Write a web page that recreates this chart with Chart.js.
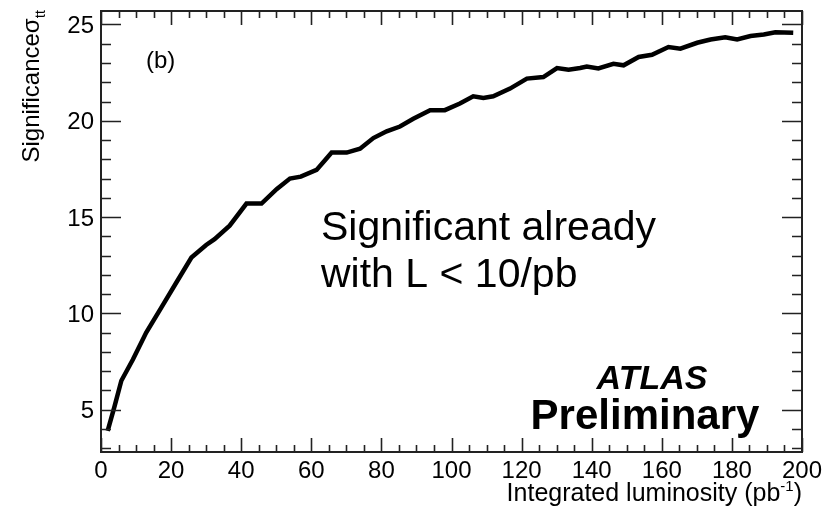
<!DOCTYPE html>
<html>
<head>
<meta charset="utf-8">
<script src="https://cdn.jsdelivr.net/npm/chart.js@4"></script>
<style>
    body { margin: 0; background: #fff; }
    #wrap { width: 838px; height: 512px; }
</style>
</head>
<body>
<div id="wrap"><canvas id="sigChart" width="838" height="512"></canvas></div>
<script>
// Data
const lumi = [1.9, 3.9, 5.8, 9.1, 12.9, 17.2, 21.5, 25.8, 30.0, 32.4, 36.7, 41.5, 45.8, 50.1, 53.9, 57.0,
    61.5, 63.9, 65.8, 70.1, 73.9, 77.7, 81.5, 85.3, 89.1, 93.9, 98.1, 102.4, 106.2, 109.1, 111.9, 116.7,
    121.5, 126.2, 130.1, 133.4, 136.7, 138.6, 141.9, 146.2, 149.1, 153.4, 157.2, 161.9, 165.3, 170.1,
    173.9, 178.1, 181.5, 185.3, 189.1, 192.4, 197.5];
const significance = [3.9, 5.2, 6.5, 7.6, 9.0, 10.3, 11.6, 12.9, 13.55, 13.85, 14.55, 15.7, 15.7, 16.45, 17.0, 17.1,
    17.45, 17.95, 18.35, 18.35, 18.55, 19.1, 19.45, 19.7, 20.1, 20.55, 20.55, 20.9, 21.27, 21.18, 21.27, 21.67,
    22.19, 22.27, 22.74, 22.65, 22.74, 22.82, 22.72, 22.96, 22.88, 23.31, 23.43, 23.83, 23.74, 24.05,
    24.22, 24.34, 24.22, 24.40, 24.48, 24.60, 24.57];

const xTickLabels = [0, 20, 40, 60, 80, 100, 120, 140, 160, 180, 200];
const yTickLabels = [5, 10, 15, 20, 25];

const FONT = '"Liberation Sans", Arial, Helvetica, sans-serif';

// ROOT-style frame with inward ticks on all four sides
const rootAxes = {
    id: 'rootAxes',
    afterDraw(chart) {
        const { ctx, chartArea: a, scales: { x, y } } = chart;
        ctx.save();
        ctx.strokeStyle = '#222';
        ctx.lineWidth = 2;
        ctx.strokeRect(a.left, a.top, a.right - a.left, a.bottom - a.top);

        ctx.lineWidth = 1.6;
        ctx.beginPath();
        // x ticks every 5, major every 20
        for (let v = 0; v <= 200; v += 5) {
            const px = Math.round(x.getPixelForValue(v)) + 0.5;
            const len = v % 20 === 0 ? 14 : 7;
            ctx.moveTo(px, a.bottom); ctx.lineTo(px, a.bottom - len);
            ctx.moveTo(px, a.top); ctx.lineTo(px, a.top + len);
        }
        // y ticks every 1, major every 5
        for (let v = 3; v <= 25; v += 1) {
            const py = Math.round(y.getPixelForValue(v)) + 0.5;
            const len = v % 5 === 0 ? 20 : 10;
            ctx.moveTo(a.left, py); ctx.lineTo(a.left + len, py);
            ctx.moveTo(a.right, py); ctx.lineTo(a.right - len, py);
        }
        ctx.stroke();

        // tick labels
        ctx.fillStyle = '#000';
        ctx.font = '24px ' + FONT;
        ctx.textAlign = 'center';
        ctx.textBaseline = 'alphabetic';
        xTickLabels.forEach(v => ctx.fillText(String(v), x.getPixelForValue(v), 478));
        ctx.textAlign = 'right';
        yTickLabels.forEach(v => ctx.fillText(String(v), a.left - 7, y.getPixelForValue(v) + 8.5));

        // x title, right aligned with superscript
        ctx.textAlign = 'left';
        const t1 = 'Integrated luminosity (pb', t3 = ')';
        ctx.font = '15px ' + FONT;
        const wSup = ctx.measureText('-1').width;
        ctx.font = '25px ' + FONT;
        const w1 = ctx.measureText(t1).width, w3 = ctx.measureText(t3).width;
        let tx = a.right - (w1 + wSup + w3);
        const ty = 501;
        ctx.fillText(t1, tx, ty); tx += w1;
        ctx.font = '15px ' + FONT;
        ctx.fillText('-1', tx, ty - 10); tx += wSup;
        ctx.font = '25px ' + FONT;
        ctx.fillText(t3, tx, ty);

        // y title, rotated, ending at top of frame
        ctx.save();
        ctx.translate(39, 0);
        ctx.rotate(-Math.PI / 2);
        ctx.font = '24px ' + FONT;
        const wS = ctx.measureText('Significance').width;
        const wSig = ctx.measureText('σ').width;
        ctx.font = '15px ' + FONT;
        const wtt = ctx.measureText('tt').width;
        let ry = -(a.top - 1) - (wS + wSig + wtt);
        ctx.font = '24px ' + FONT;
        ctx.fillText('Significance', ry, 0); ry += wS;
        ctx.fillText('σ', ry, 0); ry += wSig;
        ctx.font = '15px ' + FONT;
        ctx.fillText('tt', ry, 6);
        ctx.restore();

        // annotations
        ctx.font = '24px ' + FONT;
        ctx.fillText('(b)', 146, 68);
        ctx.font = '41px ' + FONT;
        ctx.fillText('Significant already', 321, 240);
        ctx.fillText('with L < 10/pb', 321, 287);
        ctx.font = 'italic bold 34px ' + FONT;
        ctx.textAlign = 'center';
        ctx.fillText('ATLAS', 652, 389);
        ctx.font = 'bold 42px ' + FONT;
        ctx.fillText('Preliminary', 645, 429);
        ctx.restore();
    }
};

const chart = new Chart(document.getElementById('sigChart'), {
    type: 'line',
    data: {
        datasets: [{
            data: lumi.map((v, i) => ({ x: v, y: significance[i] })),
            borderColor: '#000',
            borderWidth: 4.5,
            pointRadius: 0,
            tension: 0,
            fill: false
        }]
    },
    options: {
        responsive: false,
        animation: false,
        layout: { padding: { left: 101, top: 11, right: 36, bottom: 60 } },
        plugins: { legend: { display: false }, tooltip: { enabled: false } },
        scales: {
            x: { type: 'linear', min: 0, max: 200, display: false },
            y: { type: 'linear', min: 2.8, max: 25.7, display: false }
        }
    },
    plugins: [rootAxes]
});
</script>
</body>
</html>
